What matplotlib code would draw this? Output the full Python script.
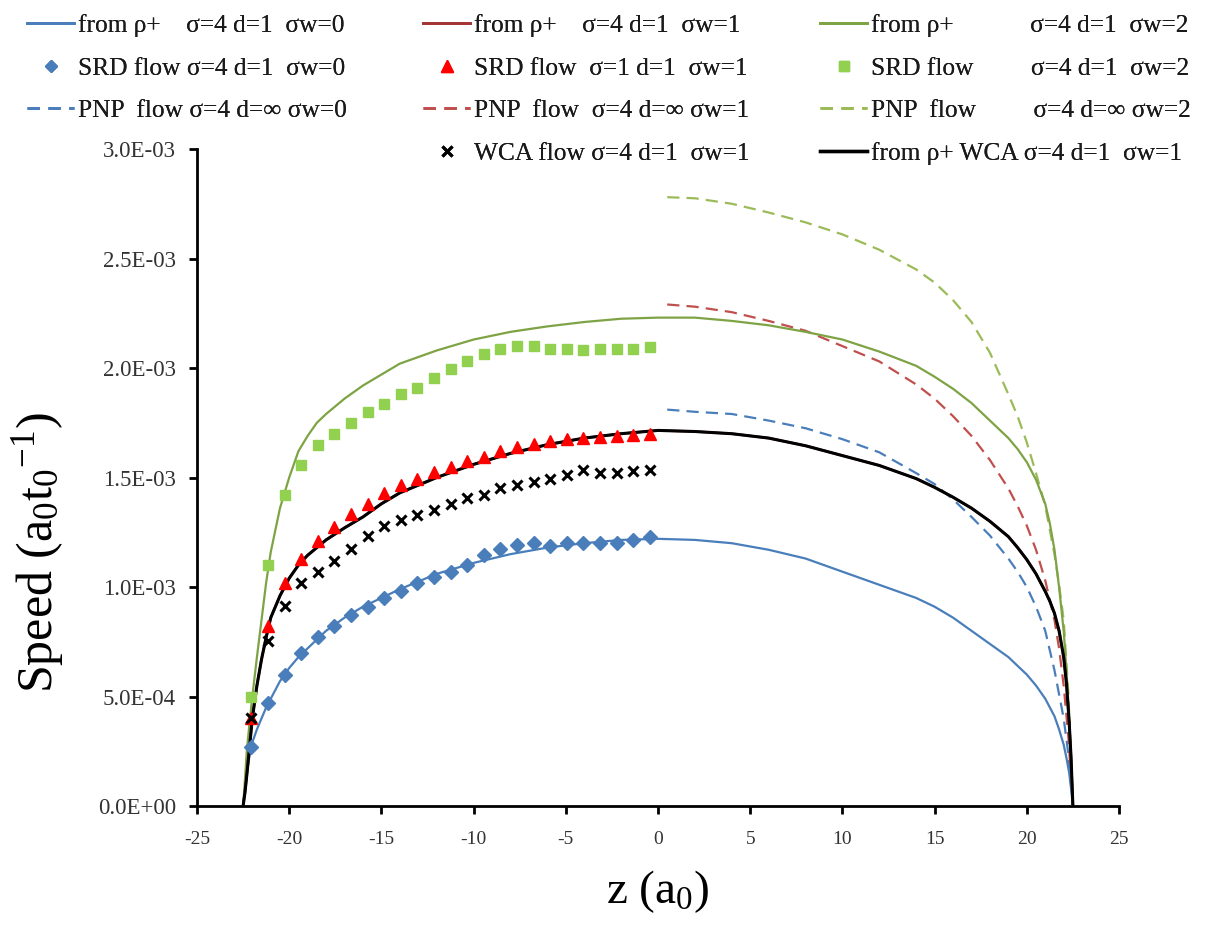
import matplotlib
matplotlib.use('Agg')
import matplotlib.pyplot as plt
from matplotlib.lines import Line2D
from matplotlib.ticker import FuncFormatter, MultipleLocator

plt.rcParams['font.family'] = ['Liberation Serif', 'DejaVu Serif']
plt.rcParams['mathtext.fontset'] = 'custom'
plt.rcParams['mathtext.rm'] = 'Liberation Serif'
plt.rcParams['mathtext.it'] = 'Liberation Serif:italic'

SCALE = 1e-3  # all speed values below are in units of 1e-3 a0/t0

# ---- theory curves "from rho+" (wall to wall) ----
z_line = [-22.5, -22.4, -22.3, -22.15, -22.0, -21.75, -21.5, -21.25, -21.0, -20.5,
          -20.0, -19.5, -19.0, -18.5, -18.0, -17.0, -16.0, -15.0, -14.0, -12.0,
          -10.0, -8.0, -6.0, -4.0, -2.0, 0.0,
          2.0, 4.0, 6.0, 8.0, 10.0, 12.0, 14.0, 15.0, 16.0, 17.0,
          18.0, 19.0, 19.5, 20.0, 20.5, 21.0, 21.25, 21.5, 21.75, 22.0,
          22.15, 22.3, 22.4, 22.5]
rho_sw0 = [0, 0.08, 0.15, 0.23, 0.29, 0.35, 0.40, 0.45, 0.49, 0.57,
           0.63, 0.68, 0.72, 0.76, 0.80, 0.86, 0.91, 0.95, 0.99, 1.06,
           1.11, 1.15, 1.18, 1.20, 1.215, 1.22,
           1.215, 1.20, 1.17, 1.13, 1.07, 1.01, 0.95, 0.91, 0.86, 0.80,
           0.74, 0.68, 0.64, 0.60, 0.55, 0.49, 0.45, 0.41, 0.35, 0.28,
           0.22, 0.15, 0.08, 0]
rho_sw1 = [0, 0.06, 0.14, 0.27, 0.40, 0.55, 0.67, 0.77, 0.86, 0.96,
           1.04, 1.10, 1.145, 1.18, 1.215, 1.27, 1.32, 1.38, 1.43, 1.50,
           1.56, 1.61, 1.65, 1.68, 1.70, 1.715,
           1.71, 1.70, 1.68, 1.645, 1.60, 1.555, 1.495, 1.455, 1.41, 1.36,
           1.30, 1.23, 1.18, 1.125, 1.06, 0.98, 0.935, 0.88, 0.80, 0.68,
           0.56, 0.38, 0.22, 0]
rho_wca_sw1 = [0, 0.06, 0.14, 0.27, 0.40, 0.55, 0.67, 0.77, 0.86, 0.96,
               1.04, 1.10, 1.145, 1.18, 1.215, 1.27, 1.32, 1.38, 1.43, 1.50,
               1.56, 1.61, 1.65, 1.68, 1.70, 1.715,
               1.71, 1.70, 1.68, 1.645, 1.60, 1.555, 1.495, 1.455, 1.41, 1.36,
               1.30, 1.23, 1.18, 1.125, 1.06, 0.98, 0.935, 0.88, 0.80, 0.68,
               0.56, 0.38, 0.22, 0]
rho_sw2 = [0, 0.12, 0.25, 0.38, 0.50, 0.68, 0.85, 1.02, 1.16, 1.36,
           1.50, 1.62, 1.69, 1.75, 1.79, 1.86, 1.92, 1.97, 2.02, 2.08,
           2.13, 2.165, 2.19, 2.21, 2.225, 2.23,
           2.23, 2.215, 2.195, 2.165, 2.13, 2.075, 2.01, 1.96, 1.905, 1.84,
           1.76, 1.68, 1.63, 1.57, 1.49, 1.38, 1.29, 1.17, 1.00, 0.80,
           0.62, 0.40, 0.22, 0]

# ---- PNP flow curves (right half) ----
z_pnp = [0.5, 2, 4, 6, 8, 10, 12, 14, 15, 16, 17, 18, 19, 19.5, 20, 20.5,
         21, 21.5, 21.75, 22, 22.25, 22.5]
pnp_sw0 = [1.81, 1.80, 1.79, 1.76, 1.725, 1.675, 1.615, 1.52, 1.47, 1.40, 1.32,
           1.235, 1.13, 1.07, 1.00, 0.91, 0.80, 0.62, 0.51, 0.40, 0.24, 0]
pnp_sw1 = [2.29, 2.28, 2.255, 2.215, 2.17, 2.10, 2.03, 1.925, 1.86, 1.78, 1.69,
           1.58, 1.45, 1.37, 1.28, 1.17, 1.03, 0.85, 0.72, 0.55, 0.32, 0]
pnp_sw2 = [2.78, 2.775, 2.75, 2.71, 2.665, 2.61, 2.54, 2.45, 2.39, 2.31, 2.21,
           2.07, 1.88, 1.78, 1.66, 1.52, 1.37, 1.15, 1.01, 0.85, 0.52, 0]

# ---- simulation data (left half, bin centres) ----
z_sim = [-22.05, -21.15, -20.25, -19.35, -18.45, -17.55, -16.65, -15.75, -14.85, -13.95,
         -13.05, -12.15, -11.25, -10.35, -9.45, -8.55, -7.65, -6.75, -5.85, -4.95,
         -4.05, -3.15, -2.25, -1.35, -0.45]
srd_sw0 = [0.27, 0.47, 0.60, 0.70, 0.77, 0.82, 0.87, 0.91, 0.95, 0.98,
           1.02, 1.045, 1.07, 1.10, 1.145, 1.175, 1.19, 1.20, 1.185, 1.20,
           1.20, 1.20, 1.20, 1.215, 1.23]
srd_sw1 = [0.40, 0.82, 1.02, 1.13, 1.21, 1.275, 1.335, 1.38, 1.43, 1.465,
           1.495, 1.525, 1.55, 1.575, 1.595, 1.62, 1.64, 1.655, 1.665, 1.675,
           1.68, 1.685, 1.69, 1.695, 1.70]
srd_sw2 = [0.50, 1.10, 1.42, 1.555, 1.65, 1.70, 1.75, 1.80, 1.835, 1.88,
           1.91, 1.955, 1.995, 2.03, 2.065, 2.085, 2.10, 2.10, 2.085, 2.085,
           2.08, 2.085, 2.085, 2.085, 2.095]
wca_sw1 = [0.40, 0.755, 0.915, 1.02, 1.07, 1.12, 1.175, 1.235, 1.28, 1.305,
           1.33, 1.35, 1.38, 1.405, 1.42, 1.45, 1.465, 1.48, 1.495, 1.51,
           1.535, 1.52, 1.52, 1.53, 1.535]

labels = {
    'rho0': 'from ρ+    σ=4 d=1  σw=0',
    'srd0': 'SRD flow σ=4 d=1  σw=0',
    'pnp0': 'PNP  flow σ=4 d=∞ σw=0',
    'rho1': 'from ρ+    σ=4 d=1  σw=1',
    'srd1': 'SRD flow  σ=1 d=1  σw=1',
    'pnp1': 'PNP  flow  σ=4 d=∞ σw=1',
    'wca1': 'WCA flow σ=4 d=1  σw=1',
    'rho2': 'from ρ+            σ=4 d=1  σw=2',
    'srd2': 'SRD flow         σ=4 d=1  σw=2',
    'pnp2': 'PNP  flow         σ=4 d=∞ σw=2',
    'rhow': 'from ρ+ WCA σ=4 d=1  σw=1',
}

C_BLUE = '#4A7EBB'
C_RED_LINE = '#A33634'
C_RED_DASH = '#C0504D'
C_GREEN_LINE = '#7EA344'
C_GREEN_DASH = '#9BBB59'
C_GREEN_MK = '#92D050'
C_RED_MK = '#FF0000'

def s(vals):
    return [v * SCALE for v in vals]

fig = plt.figure(figsize=(12.16, 9.3), dpi=100)
ax = fig.add_axes([197/1216, 1 - 806/930, (1119-197)/1216, (806-149)/930])

dash = (5.5, 3.2)
ax.plot(z_line, s(rho_sw0), color=C_BLUE, lw=1.6, zorder=3)
ax.plot(z_line, s(rho_sw2), color=C_GREEN_LINE, lw=1.6, zorder=3)
ax.plot(z_line, s(rho_sw1), color=C_RED_LINE, lw=1.8, zorder=3)
ax.plot(z_line, s(rho_wca_sw1), color='black', lw=2.2, zorder=4)
ax.plot(z_pnp, s(pnp_sw0), color=C_BLUE, lw=1.6, dashes=dash, zorder=2)
ax.plot(z_pnp, s(pnp_sw1), color=C_RED_DASH, lw=1.6, dashes=dash, zorder=2)
ax.plot(z_pnp, s(pnp_sw2), color=C_GREEN_DASH, lw=1.6, dashes=dash, zorder=2)

ax.plot(z_sim, s(srd_sw0), ls='none', marker='D', ms=7.6, color=C_BLUE, mec=C_BLUE, zorder=5)
ax.plot(z_sim, s(srd_sw1), ls='none', marker='^', ms=8.8, color=C_RED_MK, mec=C_RED_MK, zorder=5)
ax.plot(z_sim, s(srd_sw2), ls='none', marker='s', ms=7.2, color=C_GREEN_MK, mec=C_GREEN_MK, zorder=5)
ax.plot(z_sim, s(wca_sw1), ls='none', marker='x', ms=7.5, mew=2.2, color='black', zorder=6)

ax.set_xlim(-25, 25)
ax.set_ylim(0, 3.0e-3)
ax.xaxis.set_major_locator(MultipleLocator(5))
ax.yaxis.set_major_locator(MultipleLocator(0.5e-3))
ax.yaxis.set_major_formatter(FuncFormatter(lambda v, p: '{:.1E}'.format(v)))
ax.xaxis.set_major_formatter(FuncFormatter(lambda v, p: '{:g}'.format(v)))
for sp in ('top', 'right'):
    ax.spines[sp].set_visible(False)
for sp in ('left', 'bottom'):
    ax.spines[sp].set_linewidth(2.0)
ax.tick_params(axis='both', direction='out', width=2.0, length=6,
               labelcolor='#333333')
ax.tick_params(axis='y', pad=9, labelsize=16.5)
ax.tick_params(axis='x', pad=12, labelsize=14)
ax.set_xlabel(r'z (a$_0$)', fontsize=34)
ax.set_ylabel(r'Speed (a$_0$t$_0$$^{-1}$)', fontsize=36)
ax.xaxis.set_label_coords(0.5, -0.13)
ax.xaxis.label.set_va('center')
ax.yaxis.set_label_coords(-0.172, 0.385)
ax.yaxis.label.set_va('center')

# ---- legend: three columns ----
def H_line(c, lw=2.0, ls='-'):
    if ls == '--':
        return Line2D([], [], color=c, lw=lw, dashes=(4.5, 3.0))
    return Line2D([], [], color=c, lw=lw)

def H_mk(m, c, ms, mew=1.0):
    return Line2D([], [], ls='none', marker=m, color=c, mec=c, ms=ms, mew=mew)

cols = [
    ([H_line(C_BLUE), H_mk('D', C_BLUE, 6.5), H_line(C_BLUE, ls='--')],
     [labels['rho0'], labels['srd0'], labels['pnp0']], 27),
    ([H_line(C_RED_LINE), H_mk('^', C_RED_MK, 8), H_line(C_RED_DASH, ls='--'),
      H_mk('x', 'black', 7, 2.2)],
     [labels['rho1'], labels['srd1'], labels['pnp1'], labels['wca1']], 423),
    ([H_line(C_GREEN_LINE), H_mk('s', C_GREEN_MK, 6.5), H_line(C_GREEN_DASH, ls='--'),
      H_line('black', lw=2.4)],
     [labels['rho2'], labels['srd2'], labels['pnp2'], labels['rhow']], 820),
]
for handles, labs, x0 in cols:
    leg = fig.legend(handles, labs, loc='upper left',
                     bbox_to_anchor=(x0/1216, 1 - 14/930),
                     frameon=False, fontsize=18.3, handlelength=1.85,
                     handletextpad=0.15, labelspacing=0.78, borderpad=0,
                     borderaxespad=0, numpoints=1)
    for t in leg.get_texts():
        t.set_color('#1a1a1a')
    fig.add_artist(leg)

fig.savefig('out.png', dpi=100)
